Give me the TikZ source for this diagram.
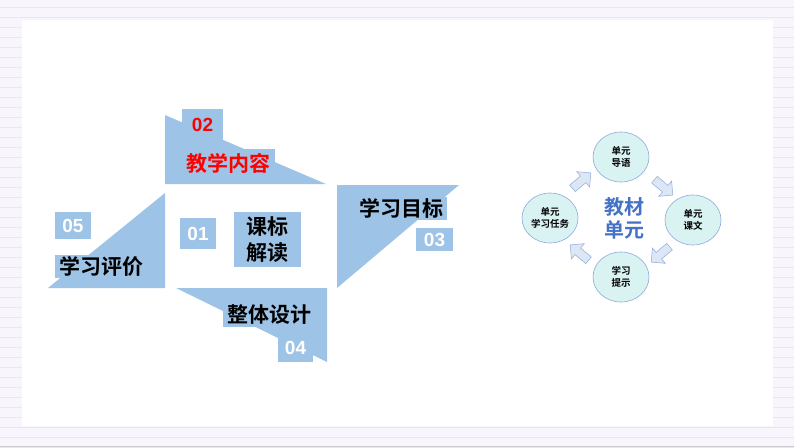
\documentclass[tikz,border=0pt]{standalone}
\usepackage{fontspec}
\setmainfont{Liberation Sans}
\newfontfamily\cjk{Noto Sans CJK SC}[BoldFont={Noto Sans CJK SC Bold}]
\usetikzlibrary{shapes.arrows,shapes.geometric}
\definecolor{pb}{HTML}{9DC3E6}
\definecolor{bgl}{HTML}{F8F5FC}
\definecolor{ln}{HTML}{D6EEF8}
\definecolor{cf}{HTML}{D9F2F2}
\definecolor{cb}{HTML}{8FAADC}
\definecolor{ttl}{HTML}{4472C4}
\begin{document}
\begin{tikzpicture}[x=1pt,y=-1pt,
  shp/.style={fill=pb,draw=none},
  lbl/.style={fill=pb,inner sep=1pt,font=\cjk\bfseries\fontsize{21}{23}\selectfont},
  num/.style={fill=pb,text=white,font=\bfseries\fontsize{19}{20}\selectfont,inner sep=0pt,text depth=0pt},
  cir/.style={ellipse,draw=cb,fill=cf,line width=0.6pt,minimum width=56pt,minimum height=50pt,align=center,font=\cjk\bfseries\fontsize{9.5}{12}\selectfont,inner sep=0pt},
  arr/.style={single arrow,draw=cb,fill=cb!30,minimum height=24pt,minimum width=20pt,single arrow head extend=3pt,inner sep=2pt,line width=0.5pt}]
\useasboundingbox (0,0) rectangle (794,447);
\fill[bgl] (0,0) rectangle (794,447);
\foreach \y in {7,17,...,447} \draw[ln,line width=0.8pt] (0,\y) -- (794,\y);
\fill[white] (22,20) rectangle (773,426);
\draw[gray!40] (0,446) -- (794,446);
% shapes
\fill[shp] (165,115) -- (165,184) -- (326,184) -- cycle;
\fill[shp] (182,109) rectangle (223,140);
\fill[shp] (337,185) -- (459,185) -- (337,288) -- cycle;
\fill[shp] (165,193) -- (165,288) -- (48,288) -- cycle;
\fill[shp] (176,288) -- (327,288) -- (327,362) -- cycle;
\node[num,text=red,minimum width=41pt,minimum height=31pt] (n02) at (202.5,124.5) {02};
\node[lbl,text=red,minimum width=93pt,minimum height=28pt] (t02) at (228.5,163) {教学内容};
\node[lbl,minimum width=92pt,minimum height=23pt] (t03) at (401,208.5) {学习目标};
\node[num,minimum width=37pt,minimum height=23pt] (n03) at (434.5,239.5) {03};
\node[num,minimum width=36pt,minimum height=27pt] (n05) at (73,225.5) {05};
\node[lbl,minimum width=92pt,minimum height=23pt] (t05) at (101,266.5) {学习评价};
\node[lbl,minimum width=93pt,minimum height=25pt] (t04) at (269.5,314.5) {整体设计};
\node[num,minimum width=35pt,minimum height=29pt] (n04) at (295.5,347.5) {04};
\node[num,minimum width=36pt,minimum height=31pt] (n01) at (198,233.5) {01};
\node[lbl,minimum width=67pt,minimum height=55pt,align=center,font=\cjk\bfseries\fontsize{21}{26}\selectfont] (t01) at (267.5,239.5) {课标\\解读};
% right
\node[cir] (c1) at (621,157) {单元\\导语};
\node[cir] (c2) at (693,220) {单元\\课文};
\node[cir] (c3) at (621,277) {学习\\提示};
\node[cir] (c4) at (550,218) {单元\\学习任务};
\node[font=\cjk\bfseries\fontsize{20}{23}\selectfont,text=ttl,align=center] (ct) at (624,218) {教材\\单元};
\node[arr,rotate=40] (a1) at (580,182) {};
\node[arr,rotate=-40] (a2) at (662,186) {};
\node[arr,rotate=-140] (a3) at (662,253) {};
\node[arr,rotate=140] (a4) at (581,254) {};
\end{tikzpicture}
\end{document}
